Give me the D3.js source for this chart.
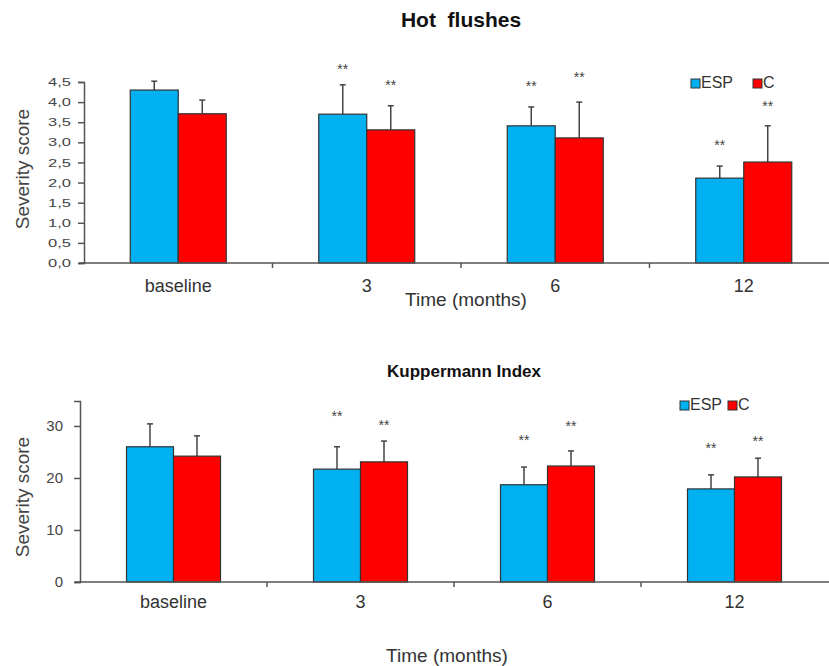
<!DOCTYPE html>
<html>
<head>
<meta charset="utf-8">
<script src="https://cdn.jsdelivr.net/npm/d3@7"></script>
<style>
  body { margin: 0; background: #fff; }
  svg { font-family: "Liberation Sans", Arial, sans-serif; display: block; }
</style>
</head>
<body>
<div id="chart"></div>
<script>
// data
const categories = ["baseline", "3", "6", "12"]
const series = ["ESP", "C"]

const hotEsp = [4.30, 3.70, 3.41, 2.11]
const hotEspSd = [0.22, 0.73, 0.47, 0.30]
const hotC = [3.71, 3.31, 3.11, 2.51]
const hotCSd = [0.34, 0.60, 0.89, 0.90]
const hotEspStars = [null, 4.90, 4.48, 3.01]
const hotCStars = [null, 4.50, 4.68, 3.96]
const hotTicks = [0, 0.5, 1, 1.5, 2, 2.5, 3, 3.5, 4, 4.5]

const kupEsp = [26.0, 21.7, 18.7, 17.9]
const kupEspSd = [4.4, 4.3, 3.4, 2.7]
const kupC = [24.2, 23.1, 22.3, 20.2]
const kupCSd = [3.9, 4.0, 2.9, 3.6]
const kupEspStars = [null, 32.5, 27.9, 26.3]
const kupCStars = [null, 30.8, 30.6, 27.7]
const kupTicks = [0, 10, 20, 30]

const WIDTH = 829
const HEIGHT = 666
const colors = { ESP: "#00b0f0", C: "#ff0000" }

const svg = d3.select("#chart")
  .append("svg")
  .attr("width", WIDTH)
  .attr("height", HEIGHT)

const plot = (p) => {
  const g = svg.append("g")

  const y = d3.scaleLinear().domain(p.domain).range([p.bottom, p.top])
  const x0 = d3.scaleBand().domain(categories).range([p.left, p.left + 4 * p.groupW])
  const bw = x0.bandwidth()
  const x1 = d3.scaleBand().domain(series).range([bw / 2 - p.barW, bw / 2 + p.barW])

  // rows for the bars
  const rows = []
  categories.forEach((cat, i) => {
    rows.push({ cat, s: "ESP", v: p.esp[i], sd: p.espSd[i], star: p.espStars[i] })
    rows.push({ cat, s: "C", v: p.c[i], sd: p.cSd[i], star: p.cStars[i] })
  })

  // error bars (upper only) behind the bars
  g.selectAll(".err")
    .data(rows)
    .enter()
    .append("line")
    .attr("x1", d => x0(d.cat) + x1(d.s) + x1.bandwidth() / 2)
    .attr("x2", d => x0(d.cat) + x1(d.s) + x1.bandwidth() / 2)
    .attr("y1", d => y(d.v))
    .attr("y2", d => y(d.v + d.sd))
    .attr("stroke", "#444")
    .attr("stroke-width", 1.5)

  g.selectAll(".cap")
    .data(rows)
    .enter()
    .append("line")
    .attr("x1", d => x0(d.cat) + x1(d.s) + x1.bandwidth() / 2 - 3)
    .attr("x2", d => x0(d.cat) + x1(d.s) + x1.bandwidth() / 2 + 3)
    .attr("y1", d => y(d.v + d.sd))
    .attr("y2", d => y(d.v + d.sd))
    .attr("stroke", "#444")
    .attr("stroke-width", 1.5)

  g.selectAll(".bar")
    .data(rows)
    .enter()
    .append("rect")
    .attr("x", d => x0(d.cat) + x1(d.s))
    .attr("width", x1.bandwidth())
    .attr("y", d => y(d.v))
    .attr("height", d => y(0) - y(d.v))
    .attr("fill", d => colors[d.s])
    .attr("stroke", "#333")
    .attr("stroke-width", 1.2)

  // significance stars
  g.selectAll(".star")
    .data(rows.filter(d => d.star != null))
    .enter()
    .append("text")
    .attr("x", d => x0(d.cat) + x1(d.s) + x1.bandwidth() / 2)
    .attr("y", d => y(d.star))
    .attr("dy", "0.55em")
    .attr("text-anchor", "middle")
    .attr("font-size", 14)
    .attr("fill", "#444")
    .text("**")

  // y axis
  const yAxis = g.append("g")
    .attr("transform", `translate(${p.left},0)`)
    .call(d3.axisLeft(y).tickValues(p.ticks).tickSize(6).tickPadding(p.tickPad)
      .tickFormat(p.fmt))
  yAxis.select(".domain").attr("stroke", "#555").attr("stroke-width", 1.5)
  yAxis.selectAll(".tick line").attr("stroke", "#555").attr("stroke-width", 1.5)
  yAxis.selectAll(".tick text")
    .attr("font-size", p.yFont)
    .attr("fill", "#444")
    .attr("transform", `scale(1,${p.ySquash})`)

  // x axis line with ticks between the groups
  g.append("line")
    .attr("x1", p.left - 5)
    .attr("x2", WIDTH)
    .attr("y1", y(0))
    .attr("y2", y(0))
    .attr("stroke", "#555")
    .attr("stroke-width", 1.5)

  g.selectAll(".sep")
    .data(categories.slice(1))
    .enter()
    .append("line")
    .attr("x1", d => x0(d))
    .attr("x2", d => x0(d))
    .attr("y1", y(0))
    .attr("y2", y(0) + 5)
    .attr("stroke", "#555")
    .attr("stroke-width", 1.5)

  g.selectAll(".xlab")
    .data(categories)
    .enter()
    .append("text")
    .attr("x", d => x0(d) + bw / 2)
    .attr("y", y(0) + p.xLabOff)
    .attr("text-anchor", "middle")
    .attr("font-size", 18)
    .attr("fill", "#333")
    .text(d => d)

  // titles
  g.append("text")
    .attr("x", p.titleX)
    .attr("y", p.titleY)
    .attr("text-anchor", "middle")
    .attr("font-size", p.titleSize)
    .attr("font-weight", "bold")
    .attr("fill", "#111")
    .style("white-space", "pre")
    .text(p.title)

  g.append("text")
    .attr("x", p.xTitleX)
    .attr("y", p.xTitleY)
    .attr("text-anchor", "middle")
    .attr("font-size", 19)
    .attr("fill", "#333")
    .text("Time (months)")

  g.append("text")
    .attr("transform", `translate(29,${p.yTitleY}) rotate(-90)`)
    .attr("text-anchor", "middle")
    .attr("font-size", 19)
    .attr("fill", "#444")
    .text("Severity score")

  // legend
  const leg = g.append("g")
  series.forEach((s, i) => {
    const lx = p.legX[i]
    leg.append("rect")
      .attr("x", lx)
      .attr("y", p.legY - 9)
      .attr("width", 9)
      .attr("height", 9)
      .attr("fill", colors[s])
      .attr("stroke", "#333")
      .attr("stroke-width", 1)
    leg.append("text")
      .attr("x", lx + 10)
      .attr("y", p.legY)
      .attr("font-size", 16)
      .attr("fill", "#333")
      .text(s)
  })
}

// hot flushes panel
plot({
  title: "Hot  flushes", titleX: 461, titleY: 27, titleSize: 21,
  domain: [0, 4.5], top: 82, bottom: 263, left: 84, groupW: 188.5, barW: 48,
  esp: hotEsp, espSd: hotEspSd, c: hotC, cSd: hotCSd,
  espStars: hotEspStars, cStars: hotCStars,
  ticks: hotTicks, fmt: d => d3.format(".1f")(d).replace(".", ","),
  yFont: 16.5, ySquash: 0.68, tickPad: 7,
  xLabOff: 29, xTitleX: 466, xTitleY: 306, yTitleY: 169,
  legX: [691, 753], legY: 88
})

// kuppermann panel
plot({
  title: "Kuppermann Index", titleX: 464, titleY: 377, titleSize: 17,
  domain: [0, 34.8], top: 401, bottom: 582, left: 80, groupW: 187, barW: 47,
  esp: kupEsp, espSd: kupEspSd, c: kupC, cSd: kupCSd,
  espStars: kupEspStars, cStars: kupCStars,
  ticks: kupTicks, fmt: d3.format("d"),
  yFont: 15, ySquash: 1, tickPad: 11,
  xLabOff: 26, xTitleX: 447, xTitleY: 662, yTitleY: 497,
  legX: [680, 728], legY: 410
})
</script>
</body>
</html>
